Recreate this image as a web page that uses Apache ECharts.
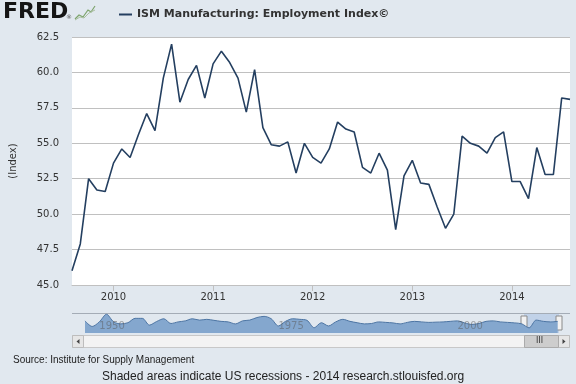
<!DOCTYPE html>
<html><head><meta charset="utf-8">
<script src="https://cdn.jsdelivr.net/npm/echarts@6/dist/echarts.min.js"></script>
<style>html,body{margin:0;padding:0;background:#E1E8EF;}#c{width:576px;height:384px;}</style>
</head><body><div id="c"></div>
<script>
const seriesName = 'ISM Manufacturing: Employment Index\u00A9';
const categories = [
 '2009-08','2009-09','2009-10','2009-11','2009-12',
 '2010-01','2010-02','2010-03','2010-04','2010-05','2010-06','2010-07','2010-08','2010-09','2010-10','2010-11','2010-12',
 '2011-01','2011-02','2011-03','2011-04','2011-05','2011-06','2011-07','2011-08','2011-09','2011-10','2011-11','2011-12',
 '2012-01','2012-02','2012-03','2012-04','2012-05','2012-06','2012-07','2012-08','2012-09','2012-10','2012-11','2012-12',
 '2013-01','2013-02','2013-03','2013-04','2013-05','2013-06','2013-07','2013-08','2013-09','2013-10','2013-11','2013-12',
 '2014-01','2014-02','2014-03','2014-04','2014-05','2014-06','2014-07','2014-08'
];
const employment = [
 46.0, 47.9, 52.5, 51.7, 51.6,
 53.6, 54.6, 54.0, 55.6, 57.1, 55.9, 59.6, 62.0, 57.9, 59.5, 60.5, 58.2,
 60.6, 61.5, 60.7, 59.6, 57.2, 60.2, 56.1, 54.9, 54.8, 55.1, 52.9, 55.0,
 54.0, 53.6, 54.6, 56.5, 56.0, 55.8, 53.3, 52.9, 54.3, 53.1, 48.9, 52.7,
 53.8, 52.2, 52.1, 50.5, 49.0, 50.0, 55.5, 55.0, 54.8, 54.3, 55.4, 55.8,
 52.3, 52.3, 51.1, 54.7, 52.8, 52.8, 58.2, 58.1
];
const xTickLabels = ['2010', '2011', '2012', '2013', '2014'];
const yTickValues = [45.0, 47.5, 50.0, 52.5, 55.0, 57.5, 60.0, 62.5];

const navYears = [1948,1949,1950,1951,1952,1953,1954,1955,1956,1957,1958,1959,1960,1961,1962,1963,1964,1965,1966,1967,
 1968,1969,1970,1971,1972,1973,1974,1975,1976,1977,1978,1979,1980,1981,1982,1983,1984,1985,1986,1987,
 1988,1989,1990,1991,1992,1993,1994,1995,1996,1997,1998,1999,2000,2001,2002,2003,2004,2005,2006,2007,
 2008,2009,2010,2011,2012,2013,2014];
const navValues = [50.6,36.5,48,67.4,48,43,46,57,57,40,49,56,44,48,50.6,56,52.6,54.5,52,49.4,
 48,43,50.6,52.6,59,62,56,37.8,49.4,56,54.5,52,33.2,46,37.8,48,54.5,49.4,46,43,
 44,48,46.8,45.5,43,46.8,49.4,48,46.8,47.4,48,49.4,50.6,45.5,41.6,44,49.4,50.6,48,46.8,
 45.5,43,33,52.6,49.4,48,49.4];
const navTickYears = [1950, 1975, 2000];

function isYearStart(i) {
  const c = categories[i];
  return c.slice(5) === '01' && xTickLabels.indexOf(c.slice(0, 4)) >= 0;
}

const chart = echarts.init(document.getElementById('c'), null, {renderer: 'canvas'});
const option = {
  backgroundColor: '#E1E8EF',
  animation: false,
  legend: {
    data: [seriesName], left: 114, top: 4, icon: 'rect', itemWidth: 13, itemHeight: 2, itemGap: 6,
    textStyle: {fontFamily: 'DejaVu Sans', fontWeight: 'bold', fontSize: 11, color: '#333'}
  },
  grid: [
    {left: 72, right: 6, top: 37, bottom: 99, show: true, backgroundColor: '#ffffff', borderWidth: 0},
    {left: 85, width: 477, top: 314, height: 19, show: false}
  ],
  xAxis: [
    {
      type: 'category', gridIndex: 0, data: categories, boundaryGap: false,
      axisLine: {lineStyle: {color: '#C0C0C0'}},
      axisTick: {interval: (i) => isYearStart(i), length: 6, lineStyle: {color: '#C0C0C0'}},
      axisLabel: {interval: (i) => isYearStart(i), formatter: (v) => v.slice(0, 4), margin: 7,
        fontFamily: 'DejaVu Sans', fontSize: 10, color: '#333'},
      splitLine: {show: false}
    },
    {
      type: 'value', gridIndex: 1, min: 1948, max: 2014.6, z: 10,
      axisLine: {show: false}, axisTick: {show: false}, splitLine: {show: false},
      axisLabel: {inside: true, customValues: navTickYears, align: 'left', margin: 2,
        formatter: (v) => String(Math.round(v)),
        fontFamily: 'DejaVu Sans', fontSize: 10, color: 'rgba(90,90,90,0.5)'}
    }
  ],
  yAxis: [
    {
      type: 'value', gridIndex: 0, min: yTickValues[0], max: yTickValues[yTickValues.length - 1], interval: 2.5,
      name: '(Index)', nameLocation: 'middle', nameRotate: 90, nameGap: 54,
      nameTextStyle: {fontFamily: 'DejaVu Sans', fontSize: 10, color: '#333'},
      axisLine: {show: false}, axisTick: {show: false},
      axisLabel: {formatter: (v) => v.toFixed(1), margin: 13, fontFamily: 'DejaVu Sans', fontSize: 10, color: '#333'},
      splitLine: {lineStyle: {color: '#C0C0C0', width: 1}}
    },
    {type: 'value', gridIndex: 1, min: 20, max: 68, show: false}
  ],
  series: [
    {
      name: seriesName, type: 'line', xAxisIndex: 0, yAxisIndex: 0, data: employment,
      showSymbol: false, symbol: 'none',
      lineStyle: {color: '#243F60', width: 1.6}, itemStyle: {color: '#243F60'}
    },
    {
      name: 'history', type: 'line', xAxisIndex: 1, yAxisIndex: 1, silent: true, z: 1,
      data: navYears.map((y, i) => [y, navValues[i]]),
      smooth: 0.3, showSymbol: false, symbol: 'none',
      lineStyle: {color: '#4D75A3', width: 1}, areaStyle: {color: '#84A7CE', opacity: 1}
    }
  ],
  graphic: [
    {type: 'text', left: 3, top: 1, style: {text: 'FRED', font: 'bold 22px "DejaVu Sans"', fill: '#151515'}},
    {type: 'text', left: 66, top: 14, style: {text: '\u00AE', font: '6px "DejaVu Sans"', fill: '#555'}},
    {type: 'polyline', shape: {points: [[75, 19], [79, 15], [83, 17], [88, 10], [91, 12], [95, 6]]}, style: {stroke: '#7DA46C', lineWidth: 1.2, fill: null}},
    {type: 'polyline', shape: {points: [[75, 20], [80, 17], [84, 18], [89, 13], [95, 10]]}, style: {stroke: '#A9BFA0', lineWidth: 1, fill: null}},
    {type: 'line', shape: {x1: 72, y1: 313.5, x2: 570, y2: 313.5}, style: {stroke: '#A4ACB6', lineWidth: 1}},
    {type: 'rect', shape: {x: 524, y: 314, width: 35, height: 19}, style: {fill: 'rgba(120,160,215,0.30)'}},
    {type: 'rect', shape: {x: 521, y: 316, width: 6, height: 14}, style: {fill: '#F2F2F2', stroke: '#8A8A8A', lineWidth: 1}},
    {type: 'rect', shape: {x: 556, y: 316, width: 6, height: 14}, style: {fill: '#F2F2F2', stroke: '#8A8A8A', lineWidth: 1}},
    {type: 'rect', shape: {x: 72.5, y: 335.5, width: 497, height: 12}, style: {fill: '#F3F3F3', stroke: '#C8C8C8', lineWidth: 1}},
    {type: 'rect', shape: {x: 72.5, y: 335.5, width: 11, height: 12}, style: {fill: '#E6E6E6', stroke: '#BDBDBD', lineWidth: 1}},
    {type: 'polygon', shape: {points: [[76.5, 341.5], [79.5, 339], [79.5, 344]]}, style: {fill: '#444'}},
    {type: 'rect', shape: {x: 558.5, y: 335.5, width: 11, height: 12}, style: {fill: '#E6E6E6', stroke: '#BDBDBD', lineWidth: 1}},
    {type: 'polygon', shape: {points: [[565.5, 341.5], [562.5, 339], [562.5, 344]]}, style: {fill: '#444'}},
    {type: 'rect', shape: {x: 524.5, y: 335.5, width: 34, height: 12}, style: {fill: '#CDCDCD', stroke: '#ABABAB', lineWidth: 1}},
    {type: 'text', left: 536, top: 337, style: {text: 'III', font: '8px "DejaVu Sans"', fill: '#333'}},
    {type: 'text', left: 13, top: 355, style: {text: 'Source: Institute for Supply Management', font: '10px "Liberation Sans"', fill: '#222'}},
    {type: 'text', left: 102, top: 371, style: {text: 'Shaded areas indicate US recessions - 2014 research.stlouisfed.org', font: '12px "Liberation Sans"', fill: '#222'}}
  ]
};
chart.setOption(option);
</script></body></html>
